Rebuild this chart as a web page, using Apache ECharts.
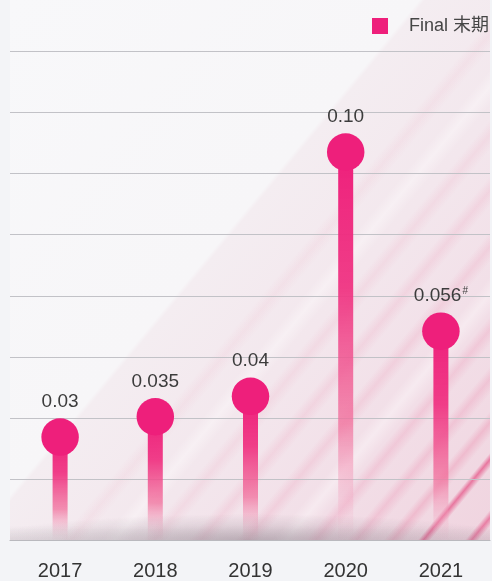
<!DOCTYPE html>
<html>
<head>
<meta charset="utf-8">
<script src="https://cdn.jsdelivr.net/npm/echarts@6/dist/echarts.min.js"></script>
<style>
  html, body { margin: 0; padding: 0; background: #f3f4f7; }
  #wrap { position: relative; width: 492px; height: 581px; overflow: hidden; background: #f3f4f7; }
  #deco {
    position: absolute; left: 10px; top: 0; width: 480px; height: 540px;
    background:
      linear-gradient(129.6deg, transparent 92.2%, rgba(226,55,115,0.6) 92.8%, transparent 93.6%),
      linear-gradient(129.6deg, transparent 97.3%, rgba(226,55,115,0.55) 98%, transparent 98.8%),
      linear-gradient(129.6deg, transparent 88.5%, rgba(232,80,130,0.22) 89.5%, transparent 90.8%),
      linear-gradient(129.6deg, transparent 84.5%, rgba(232,90,140,0.18) 85.6%, transparent 87%),
      linear-gradient(129.6deg, transparent 80%, rgba(232,90,140,0.16) 81.2%, transparent 82.6%),
      linear-gradient(129.6deg, transparent 76.5%, rgba(255,255,255,0.35) 78%, transparent 79.8%),
      linear-gradient(129.6deg, transparent 72.5%, rgba(232,100,145,0.14) 73.8%, transparent 75.2%),
      linear-gradient(129.6deg, transparent 67.5%, rgba(232,100,145,0.12) 68.8%, transparent 70.2%),
      linear-gradient(129.6deg, transparent 62.5%, rgba(232,110,150,0.1) 63.8%, transparent 65.2%),
      linear-gradient(129.6deg, transparent 58%, rgba(255,255,255,0.35) 59.5%, transparent 61.2%),
      linear-gradient(129.6deg, transparent 53.5%, rgba(232,120,155,0.08) 54.8%, transparent 56.2%),
      linear-gradient(129.6deg, #f8f8fa 0%, #f7f6f8 44.2%, #f4edf1 44.8%, #f3e7ed 62%, #f2dee7 80%, #f0d4df 100%);
  }
  #chart { position: absolute; left: 0; top: 0; width: 492px; height: 581px; }
  #shadow {
    position: absolute; left: 10px; top: 500px; width: 480px; height: 40px; pointer-events: none;
    background:
      radial-gradient(ellipse 270px 26px at 50% 100%, rgba(125,115,125,0.38), rgba(125,115,125,0.12) 65%, rgba(125,115,125,0) 100%),
      linear-gradient(to top, rgba(140,130,140,0.18), rgba(140,130,140,0) 14px);
  }
</style>
</head>
<body>
<div id="wrap">
  <div id="deco"></div>
  <div id="chart"></div>
  <div id="shadow"></div>
</div>
<script>
const categories = ['2017', '2018', '2019', '2020', '2021'];
const values = [0.03, 0.035, 0.04, 0.10, 0.056];
const valueLabels = ['0.03', '0.035', '0.04', '0.10', '0.056'];
const labelMarks = ['', '', '', '', '#'];
const legendName = 'Final 末期';
const gridLineSteps = [0, 8];

const FONT = "'Liberation Sans', 'Noto Sans CJK SC', sans-serif";
const PINK = '#ee1f7b';

const chart = echarts.init(document.getElementById('chart'), null, { renderer: 'canvas' });

chart.setOption({
  backgroundColor: 'transparent',
  animation: false,
  legend: {
    data: [{ name: legendName, icon: 'rect' }],
    right: 3, top: 17, padding: 0,
    itemWidth: 16, itemHeight: 16,
    textStyle: { fontSize: 18, color: '#454545', fontFamily: FONT, padding: [0, 0, 0, 16] }
  },
  grid: [
    { left: 10, right: 2, top: 51.5, bottom: 41 },
    { left: 12.5, right: 3.5, top: 51.5, bottom: 41 }
  ],
  xAxis: [
    {
      gridIndex: 0, type: 'category', data: categories,
      axisLine: { show: true, lineStyle: { color: '#b9b9be', width: 1.2 } },
      axisTick: { show: false }, axisLabel: { show: false }, splitLine: { show: false }
    },
    {
      gridIndex: 1, type: 'category', data: categories,
      axisLine: { show: false }, axisTick: { show: false },
      axisLabel: { show: true, fontSize: 20, color: '#333333', fontFamily: FONT, margin: 21 }
    }
  ],
  yAxis: [
    {
      gridIndex: 0, type: 'value', min: gridLineSteps[0], max: gridLineSteps[1], interval: 1,
      axisLine: { show: false }, axisTick: { show: false }, axisLabel: { show: false },
      splitLine: { show: true, lineStyle: { color: '#c2c2c7', width: 1.2 } }
    },
    {
      gridIndex: 1, type: 'value', min: 0.00472, max: 0.12469,
      axisLine: { show: false }, axisTick: { show: false }, axisLabel: { show: false },
      splitLine: { show: false }
    }
  ],
  series: [
    {
      name: 'stem', type: 'bar', xAxisIndex: 1, yAxisIndex: 1,
      data: values, barWidth: 15, z: 2,
      itemStyle: {
        color: new echarts.graphic.LinearGradient(0, 0, 0, 1, [
          { offset: 0, color: 'rgba(238,31,123,1)' },
          { offset: 0.35, color: 'rgba(239,52,130,0.95)' },
          { offset: 0.7, color: 'rgba(241,110,155,0.75)' },
          { offset: 1, color: 'rgba(245,190,210,0.05)' }
        ])
      }
    },
    {
      name: legendName, type: 'scatter', xAxisIndex: 1, yAxisIndex: 1,
      data: values, symbol: 'circle', symbolSize: 37.5, z: 3,
      itemStyle: { color: PINK, opacity: 1 },
      label: {
        show: true, position: 'top', distance: 7,
        formatter: p => '{v|' + valueLabels[p.dataIndex] + '}' + (labelMarks[p.dataIndex] ? '{s|' + labelMarks[p.dataIndex] + '}' : ''),
        rich: {
          v: { fontSize: 19, color: '#3c3c3c', fontFamily: FONT },
          s: { fontSize: 10, color: '#3c3c3c', fontFamily: FONT, padding: [0, 0, 9, 1] }
        }
      }
    }
  ]
});
</script>
</body>
</html>
